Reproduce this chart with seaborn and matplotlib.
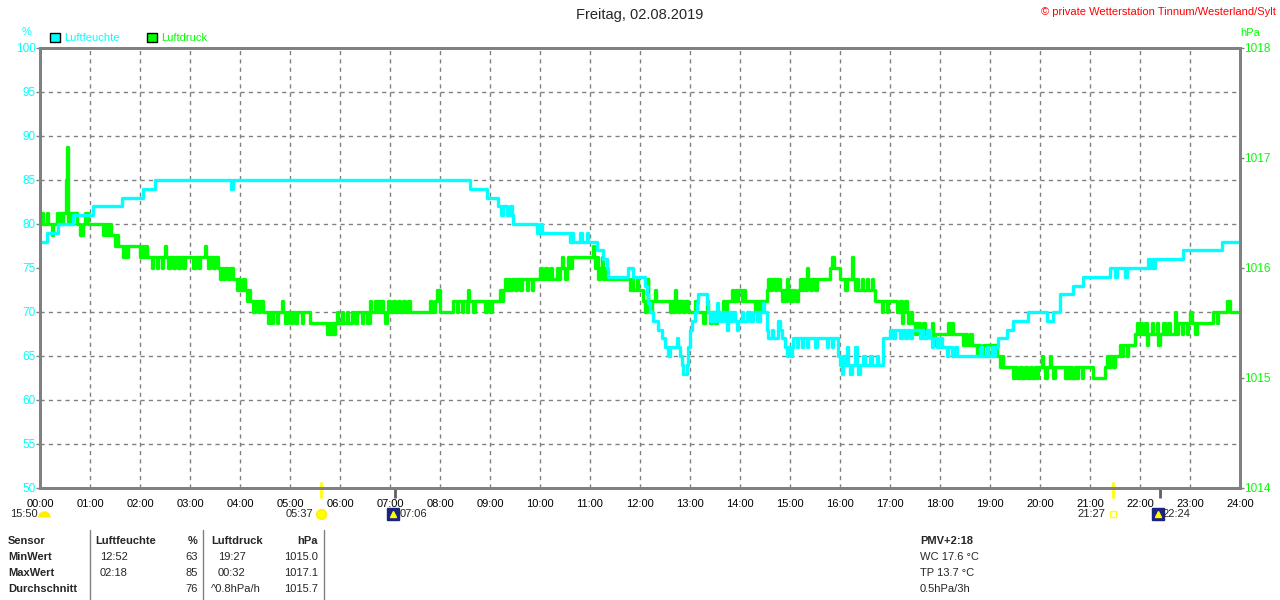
import matplotlib
matplotlib.use("Agg")
import matplotlib.pyplot as plt
from matplotlib.patches import Patch
from matplotlib.lines import Line2D
from matplotlib.markers import MarkerStyle
import seaborn as sns
import pandas as pd

# Luftfeuchte (%), Minuten seit 00:00, Stufenwerte
hum_min = [0, 8, 22, 40, 64, 98, 124, 138, 229, 231, 516, 536, 550, 553, 556, 560, 564, 566, 568,
           596, 600, 602, 636, 638, 640, 648, 650, 656, 658, 668, 676, 680, 682, 706, 712, 726, 728,
           730, 732, 736, 742, 746, 750, 754, 756, 764, 766, 768, 770, 772, 776, 778, 780, 782, 786,
           788, 790, 800, 802, 804, 808, 810, 812, 813, 816, 818, 822, 824, 826, 828, 830, 834, 836,
           838, 842, 844, 848, 852, 856, 860, 864, 868, 869, 872, 874, 878, 880, 886, 888, 890, 894,
           896, 898, 900, 902, 904, 908, 910, 914, 916, 920, 922, 930, 932, 944, 946, 950, 952, 958,
           960, 962, 964, 966, 968, 970, 972, 974, 978, 980, 982, 984, 988, 990, 996, 998, 1004, 1006,
           1012, 1020, 1024, 1026, 1032, 1034, 1038, 1040, 1044, 1046, 1056, 1058, 1060, 1064, 1068,
           1070, 1072, 1076, 1080, 1082, 1088, 1090, 1094, 1098, 1100, 1128, 1130, 1136, 1138, 1142,
           1144, 1146, 1150, 1160, 1168, 1186, 1208, 1216, 1224, 1240, 1252, 1284, 1290, 1292, 1302,
           1304, 1330, 1332, 1334, 1336, 1338, 1372, 1418, 1440]
hum_val = [78, 79, 80, 81, 82, 83, 84, 85, 84, 85, 84, 83, 82, 81, 82, 81, 82, 81, 80,
           79, 80, 79, 78, 79, 78, 79, 78, 79, 78, 77, 76, 75, 74, 75, 74, 73, 72,
           71, 70, 69, 68, 67, 66, 65, 66, 67, 66, 65, 64, 63, 64, 66, 68, 69, 70,
           71, 72, 71, 70, 69, 70, 69, 71, 70, 69, 70, 69, 68, 70, 69, 70, 69, 68,
           69, 70, 69, 70, 69, 70, 69, 70, 71, 70, 68, 67, 68, 67, 69, 68, 67, 66,
           65, 66, 65, 66, 67, 66, 67, 66, 67, 66, 67, 66, 67, 66, 67, 66, 67, 65,
           64, 63, 65, 64, 66, 64, 63, 64, 66, 64, 63, 64, 65, 64, 65, 64, 65, 64,
           67, 68, 67, 68, 67, 68, 67, 68, 67, 68, 67, 68, 67, 68, 67,
           66, 67, 66, 67, 66, 65, 66, 65, 66, 65, 66, 65, 66, 65, 66,
           65, 66, 67, 68, 69, 70, 69, 70, 72, 73, 74, 75, 74, 75, 74,
           75, 76, 75, 76, 75, 76, 77, 78, 78]

# Luftdruck (hPa), Minuten seit 00:00
press_min = [0, 2, 4, 8, 10, 14, 16, 20, 22, 24, 26, 28, 30, 31, 32, 33, 34, 36, 38, 40, 44, 48, 52, 54, 58,
             76, 78, 80, 83, 85, 90, 92, 94, 100, 102, 104, 106, 120, 122, 124, 126, 128, 134, 136, 140,
             142, 146, 148, 150, 151, 154, 156, 160, 162, 166, 168, 172, 174, 184, 186, 190, 192, 198,
             199, 202, 204, 208, 210, 214, 216, 218, 220, 222, 226, 228, 232, 236, 238, 240, 244, 246,
             248, 250, 252, 256, 258, 262, 264, 268, 274, 276, 278, 280, 284, 286, 290, 291, 294, 296,
             300, 302, 306, 308, 314, 316, 324, 344, 346, 348, 350, 352, 354, 356, 358, 362, 364, 368,
             370, 374, 378, 380, 386, 388, 392, 396, 397, 402, 404, 406, 408, 410, 412, 414, 416, 418,
             420, 424, 426, 430, 432, 436, 438, 442, 444, 468, 470, 474, 476, 480, 496, 500, 502, 506,
             508, 512, 514, 515, 520, 522, 534, 536, 540, 542, 552, 554, 556, 558, 560, 562, 564, 566,
             570, 572, 576, 578, 584, 586, 590, 592, 600, 602, 606, 608, 612, 614, 620, 622, 624, 626,
             628, 630, 632, 634, 636, 638, 664, 665, 666, 668, 670, 672, 674, 676, 678, 680, 708, 710,
             712, 716, 718, 722, 724, 726, 728, 729, 730, 732, 734, 738, 739, 756, 758, 760, 762, 763,
             766, 768, 772, 774, 778, 786, 788, 796, 798, 800, 801, 804, 806, 810, 812, 820, 822, 824,
             830, 832, 834, 836, 838, 842, 844, 846, 858, 860, 864, 866, 872, 874, 876, 878, 882, 884,
             888, 890, 892, 894, 896, 897, 900, 902, 906, 910, 912, 914, 916, 918, 920, 921, 924, 926,
             930, 932, 948, 950, 953, 960, 966, 968, 974, 975, 978, 980, 982, 986, 988, 992, 994, 998,
             1000, 1002, 1010, 1012, 1016, 1018, 1028, 1030, 1032, 1034, 1036, 1038, 1040, 1042, 1044,
             1046, 1050, 1052, 1056, 1060, 1062, 1070, 1072, 1074, 1090, 1092, 1094, 1096, 1108, 1110,
             1112, 1116, 1118, 1124, 1126, 1128, 1132, 1136, 1138, 1142, 1144, 1148, 1152, 1154, 1156,
             1167, 1170, 1172, 1176, 1178, 1182, 1184, 1188, 1190, 1194, 1196, 1198, 1202, 1203, 1206,
             1208, 1212, 1213, 1216, 1218, 1230, 1232, 1234, 1236, 1238, 1242, 1244, 1246, 1250, 1252,
             1264, 1278, 1280, 1282, 1284, 1288, 1290, 1296, 1298, 1300, 1304, 1306, 1314, 1316, 1318,
             1320, 1322, 1326, 1328, 1330, 1334, 1336, 1340, 1342, 1344, 1348, 1350, 1354, 1356, 1362,
             1363, 1364, 1366, 1370, 1372, 1376, 1378, 1380, 1382, 1386, 1388, 1408, 1412, 1413, 1424,
             1428, 1440]
press_val = [1016.4, 1016.5, 1016.4, 1016.5, 1016.4, 1016.3, 1016.4, 1016.5, 1016.4, 1016.5, 1016.4, 1016.5, 1016.5, 1016.8, 1017.1, 1016.6, 1016.4, 1016.5, 1016.4, 1016.5, 1016.4, 1016.3, 1016.4, 1016.5, 1016.4,
             1016.3, 1016.4, 1016.3, 1016.4, 1016.3, 1016.2, 1016.3, 1016.2, 1016.1, 1016.2, 1016.1, 1016.2, 1016.1, 1016.2, 1016.1, 1016.2, 1016.1, 1016.0, 1016.1, 1016.0,
             1016.1, 1016.0, 1016.1, 1016.2, 1016.1, 1016.0, 1016.1, 1016.0, 1016.1, 1016.0, 1016.1, 1016.0, 1016.1, 1016.0, 1016.1, 1016.0, 1016.1, 1016.2,
             1016.1, 1016.0, 1016.1, 1016.0, 1016.1, 1016.0, 1015.9, 1016.0, 1015.9, 1016.0, 1015.9, 1016.0, 1015.9, 1015.8, 1015.9, 1015.8, 1015.9, 1015.8,
             1015.7, 1015.8, 1015.7, 1015.6, 1015.7, 1015.6, 1015.7, 1015.6, 1015.5, 1015.6, 1015.5, 1015.6, 1015.5, 1015.6, 1015.7, 1015.6, 1015.5, 1015.6,
             1015.5, 1015.6, 1015.5, 1015.6, 1015.5, 1015.6, 1015.5, 1015.4, 1015.5, 1015.4, 1015.5, 1015.4, 1015.5, 1015.6, 1015.5, 1015.6, 1015.5, 1015.6,
             1015.5, 1015.6, 1015.5, 1015.6, 1015.5, 1015.6, 1015.5, 1015.7, 1015.6, 1015.7, 1015.6, 1015.7, 1015.6, 1015.7, 1015.6, 1015.5, 1015.6, 1015.7,
             1015.6, 1015.7, 1015.6, 1015.7, 1015.6, 1015.7, 1015.6, 1015.7, 1015.6, 1015.7, 1015.6, 1015.7, 1015.8, 1015.6, 1015.7, 1015.6, 1015.7, 1015.6,
             1015.7, 1015.6, 1015.8, 1015.7, 1015.6, 1015.7, 1015.6, 1015.7, 1015.6, 1015.7, 1015.8, 1015.7, 1015.8, 1015.9, 1015.8, 1015.9, 1015.8, 1015.9,
             1015.8, 1015.9, 1015.8, 1015.9, 1015.8, 1015.9, 1015.8, 1015.9, 1016.0, 1015.9, 1016.0, 1015.9, 1016.0, 1015.9, 1016.0, 1015.9, 1016.0, 1016.1,
             1016.0, 1015.9, 1016.0, 1016.1, 1016.0, 1016.1, 1016.2, 1016.1, 1016.0, 1016.1, 1015.9, 1016.0, 1016.1, 1015.9, 1016.0, 1015.9, 1015.8, 1015.9,
             1015.8, 1015.9, 1015.8, 1015.8, 1015.7, 1015.6, 1015.7, 1015.9, 1015.7, 1015.6, 1015.7, 1015.8, 1015.7, 1015.6, 1015.7, 1015.6, 1015.8, 1015.7,
             1015.6, 1015.7, 1015.6, 1015.7, 1015.6, 1015.7, 1015.6, 1015.5, 1015.6, 1015.7, 1015.6, 1015.5, 1015.6, 1015.5, 1015.6, 1015.7, 1015.6, 1015.7,
             1015.8, 1015.7, 1015.8, 1015.7, 1015.8, 1015.7, 1015.8, 1015.7, 1015.6, 1015.7, 1015.6, 1015.7, 1015.8, 1015.9, 1015.8, 1015.9, 1015.8, 1015.9,
             1015.8, 1015.7, 1015.8, 1015.7, 1015.9, 1015.8, 1015.7, 1015.8, 1015.7, 1015.8, 1015.9, 1015.8, 1015.9, 1015.8, 1016.0, 1015.9, 1015.8, 1015.9,
             1015.8, 1015.9, 1016.0, 1016.1, 1016.0, 1015.9, 1015.8, 1015.9, 1016.1, 1015.9, 1015.8, 1015.9, 1015.8, 1015.9, 1015.8, 1015.9, 1015.8, 1015.9,
             1015.8, 1015.7, 1015.6, 1015.7, 1015.6, 1015.7, 1015.6, 1015.6, 1015.7, 1015.5, 1015.6, 1015.7, 1015.6, 1015.5, 1015.6,
             1015.5, 1015.4, 1015.5, 1015.4, 1015.5, 1015.4, 1015.5, 1015.3, 1015.4, 1015.5, 1015.4, 1015.5, 1015.4, 1015.3, 1015.4,
             1015.3, 1015.4, 1015.3, 1015.2, 1015.3, 1015.2, 1015.3, 1015.2, 1015.3, 1015.2, 1015.3, 1015.2, 1015.1, 1015.2, 1015.1,
             1015.0, 1015.1, 1015.0, 1015.1, 1015.0, 1015.1, 1015.0, 1015.1, 1015.0, 1015.1, 1015.0, 1015.1, 1015.2, 1015.1, 1015.0,
             1015.1, 1015.2, 1015.1, 1015.0, 1015.1, 1015.0, 1015.1, 1015.0, 1015.1, 1015.0, 1015.1, 1015.0, 1015.1, 1015.0, 1015.1,
             1015.0, 1015.1, 1015.2, 1015.1, 1015.2, 1015.1, 1015.2, 1015.3, 1015.2, 1015.3, 1015.2, 1015.3, 1015.4, 1015.5, 1015.4,
             1015.5, 1015.4, 1015.5, 1015.3, 1015.4, 1015.5, 1015.4, 1015.5, 1015.3, 1015.4, 1015.5, 1015.4, 1015.5, 1015.4, 1015.6,
             1015.5, 1015.4, 1015.5, 1015.4, 1015.5, 1015.4, 1015.5, 1015.6, 1015.5, 1015.4, 1015.5, 1015.6, 1015.5, 1015.6, 1015.7,
             1015.6, 1015.6]

# Sonnen-/Mondzeiten (Minuten)
sun_min = [337, 1287]
moon_min = [426, 1344]

stunden = ["%02d:00" % h for h in range(25)]

CYAN = "#00ffff"
GRUEN = "#00ff00"
GRAU = "#808080"

sns.set_style("white")
plt.rcParams["font.family"] = ["Liberation Sans", "DejaVu Sans"]
plt.rcParams["font.size"] = 8

fig = plt.figure(figsize=(12.8, 6), dpi=100)

def fx(x):
    return x / 1280

def fy(y):
    return 1 - y / 600

ax2 = fig.add_axes([fx(40), fy(488), 1200 / 1280, 440 / 600])
ax = ax2.twinx()
ax.set_zorder(ax2.get_zorder() + 1)
ax.patch.set_visible(False)

df_p = pd.DataFrame({"min": press_min, "hPa": press_val})
df_h = pd.DataFrame({"min": hum_min, "hum": hum_val})

sns.lineplot(data=df_p, x="min", y="hPa", ax=ax2, color=GRUEN, linewidth=2.4,
             drawstyle="steps-post", estimator=None)
sns.lineplot(data=df_h, x="min", y="hum", ax=ax, color=CYAN, linewidth=2.4,
             drawstyle="steps-post", estimator=None)

# Achse rechts = Luftdruck (hinten, mit Gitter), links = Luftfeuchte
ax2.set_xlim(0, 1440)
ax2.set_ylim(1014, 1018)
ax.set_ylim(50, 100)
ax2.set_xticks(range(0, 1441, 60))
ax2.set_xticklabels(stunden)
ax2.set_yticks([1014, 1015, 1016, 1017, 1018])
ax2.set_yticks([1014 + 0.4 * i for i in range(1, 10)], minor=True)
ax2.yaxis.tick_right()
ax2.yaxis.set_label_position("right")
ax.yaxis.tick_left()
ax.yaxis.set_label_position("left")
ax.set_yticks(range(50, 101, 5))

ax2.grid(True, which="minor", axis="y", color=GRAU, linestyle=(0, (3, 3)), linewidth=1)
ax2.grid(True, which="major", axis="x", color=GRAU, linestyle=(0, (3, 3)), linewidth=1)
ax2.grid(False, which="major", axis="y")

ax2.tick_params(axis="x", length=0, pad=8, labelsize=8, colors="black")
ax2.tick_params(axis="y", which="major", length=3, width=1, color=GRAU, pad=0,
                labelcolor=GRUEN, labelsize=8.5)
ax2.tick_params(axis="y", which="minor", length=0)
ax.tick_params(axis="y", length=3, width=1, color=GRAU, pad=0, labelcolor=CYAN, labelsize=8.5)

for a in (ax, ax2):
    a.set_xlabel("")
    a.set_ylabel("")
    for s in a.spines.values():
        s.set_color(GRAU)
        s.set_linewidth(2)

# Sonnenauf-/untergang und Mond am Rand
tr = ax2.get_xaxis_transform()
ax2.vlines(sun_min, -10 / 440, 6 / 440, color="#ffff00", linewidth=2, transform=tr, clip_on=False)
ax2.vlines(moon_min, -10 / 440, 0, color="#606060", linewidth=2, transform=tr, clip_on=False)
yl = -26 / 440
ax2.plot(sun_min[0], yl, marker="o", markersize=7, color="#ffff00", markeredgecolor="#ffee00",
         transform=tr, clip_on=False)
ax2.plot(sun_min[1], yl, marker="s", markersize=5, markerfacecolor="white",
         markeredgecolor="#ffff00", transform=tr, clip_on=False)
for m in moon_min:
    ax2.plot(m - 3, yl, marker="s", markersize=8, color="#1a237e", transform=tr, clip_on=False)
    ax2.plot(m - 3, yl, marker="^", markersize=4, color="#ffff00", transform=tr, clip_on=False)
ax2.text(sun_min[0] - 9, yl, "05:37", ha="right", va="center", transform=tr)
ax2.text(sun_min[1] - 9, yl, "21:27", ha="right", va="center", transform=tr)
ax2.text(moon_min[0] + 5, yl, "07:06", ha="left", va="center", transform=tr)
ax2.text(moon_min[1] + 3, yl, "22:24", ha="left", va="center", transform=tr)
fig.text(fx(10), fy(514), "15:50", ha="left", va="center")
fig.add_artist(Line2D([fx(44)], [fy(517)], marker=MarkerStyle("o", fillstyle="top"),
                      markersize=9, markerfacecolor="#ffee00", markerfacecoloralt="none",
                      markeredgewidth=0, linestyle="none"))

# Titel und Beschriftung oben
fig.text(0.5, fy(15), "Freitag, 02.08.2019", ha="center", va="center", fontsize=10.5)
fig.text(fx(1276), fy(12), "\u00a9 private Wetterstation Tinnum/Westerland/Sylt",
         ha="right", va="center", color="red", fontsize=8)
fig.text(fx(27), fy(32), "%", ha="center", va="center", color=CYAN, fontsize=8)
fig.text(fx(1250), fy(33), "hPa", ha="center", va="center", color=GRUEN, fontsize=8)

handles = [Patch(facecolor=CYAN, edgecolor="black", label="Luftfeuchte"),
           Patch(facecolor=GRUEN, edgecolor="black", label="Luftdruck")]
fig.legend(handles=handles, loc="center left", bbox_to_anchor=(fx(50), fy(38)), ncol=2,
           frameon=False, labelcolor=[CYAN, GRUEN], handlelength=0.9, handleheight=0.9,
           handletextpad=0.4, columnspacing=2.4, fontsize=8, borderaxespad=0, borderpad=0)

# Tabelle unten
for x in (90, 203, 324):
    fig.add_artist(Line2D([fx(x), fx(x)], [fy(530), fy(600)], color=GRAU, linewidth=1))

zeilen_y = [541, 557, 573, 589]
kopf = ["Sensor", "MinWert", "MaxWert", "Durchschnitt"]
feuchte_zeit = ["", "12:52", "02:18", ""]
feuchte_wert = ["%", "63", "85", "76"]
druck_zeit = ["", "19:27", "00:32", "^0.8hPa/h"]
druck_wert = ["hPa", "1015.0", "1017.1", "1015.7"]
rechts = ["PMV+2:18", "WC 17.6 \u00b0C", "TP 13.7 \u00b0C", "0.5hPa/3h"]

for i, y in enumerate(zeilen_y):
    fig.text(fx(8), fy(y), kopf[i], ha="left", va="center", fontweight="bold")
    fw = "bold" if i == 0 else "normal"
    fig.text(fx(198), fy(y), feuchte_wert[i], ha="right", va="center", fontweight=fw)
    fig.text(fx(318), fy(y), druck_wert[i], ha="right", va="center", fontweight=fw)
    fig.text(fx(920), fy(y), rechts[i], ha="left", va="center", fontweight=fw)
    if i > 0:
        fig.text(fx(100), fy(y), feuchte_zeit[i], ha="left", va="center")
        fig.text(fx(218) if i < 3 else fx(211), fy(y), druck_zeit[i], ha="left", va="center")
fig.text(fx(95), fy(zeilen_y[0]), "Luftfeuchte", ha="left", va="center", fontweight="bold")
fig.text(fx(211), fy(zeilen_y[0]), "Luftdruck", ha="left", va="center", fontweight="bold")

fig.savefig("out.png", dpi=100, facecolor="white")
